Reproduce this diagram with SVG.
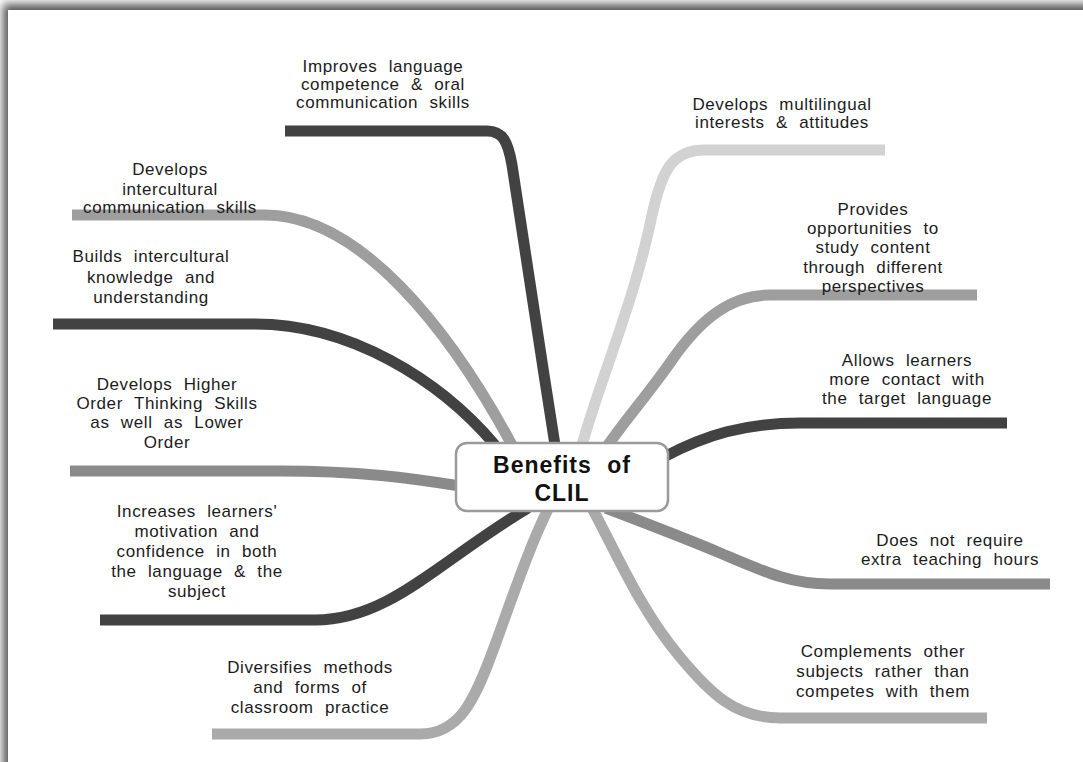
<svg xmlns="http://www.w3.org/2000/svg" width="1083" height="762" viewBox="0 0 1083 762">
<defs>
<filter id="sh" x="-5%" y="-5%" width="110%" height="110%"><feGaussianBlur stdDeviation="5"/></filter>
<style>
.br{fill:none;stroke-width:11;stroke-linecap:butt}
.d{stroke:#424242}.m{stroke:#8a8a8a}.g{stroke:#9e9e9e}.l{stroke:#aaaaaa}.xl{stroke:#d2d2d2}
.t{font-family:"Liberation Sans",Arial,sans-serif;font-size:17px;fill:#1c1c1c;text-anchor:middle;letter-spacing:0.6px;word-spacing:6px}
.c{font-family:"Liberation Sans",Arial,sans-serif;font-size:23px;font-weight:bold;fill:#111;text-anchor:middle;letter-spacing:1px;word-spacing:8px}
</style>
</defs>
<rect x="0" y="0" width="1083" height="762" fill="#ffffff"/>
<rect x="3" y="4" width="1100" height="780" fill="#555555" filter="url(#sh)"/>
<rect x="8" y="10" width="1075" height="752" fill="#ffffff"/>
<g id="connectors">
<path class="br d" d="M285,131 H487 C503,131 508,142 512,165 C525,250 540,350 555,445"/>
<path class="br xl" d="M885,150 H705 C672,150 662,170 652,215 C635,300 600,380 582,445"/>
<path class="br g" d="M977,295 H770 C730,295 700,320 672,360 C650,392 625,420 606,448"/>
<path class="br d" d="M1007,423 H800 C745,423 705,435 664,457"/>
<path class="br m" d="M606,508 C650,525 690,540 720,553 C765,572 790,584 830,584 H1050"/>
<path class="br l" d="M592,508 C615,550 640,610 680,657 C710,693 735,718 780,718 H987"/>
<path class="br l" d="M212,734 H420 C460,734 475,700 495,645 C515,590 530,545 550,505"/>
<path class="br d" d="M100,620 H315 C390,620 440,560 528,508"/>
<path class="br m" d="M70,471 H280 C360,471 410,478 460,486"/>
<path class="br d" d="M53,324 H255 C350,324 440,380 495,445"/>
<path class="br g" d="M72,215 H265 C360,215 450,330 512,445"/>
</g>
<g id="center">
<rect x="456" y="443" width="212" height="68" rx="11" fill="#ffffff" stroke="#9a9a9a" stroke-width="2.5"/>
<text class="c" x="562" y="473">Benefits of</text>
<text class="c" x="562" y="501">CLIL</text>
</g>
<g id="n1"><text class="t" x="383" y="72">Improves language</text><text class="t" x="383" y="90">competence &amp; oral</text><text class="t" x="383" y="108">communication skills</text></g>
<g id="n2"><text class="t" x="782" y="110">Develops multilingual</text><text class="t" x="782" y="128">interests &amp; attitudes</text></g>
<g id="n3"><text class="t" x="873" y="215">Provides</text><text class="t" x="873" y="234">opportunities to</text><text class="t" x="873" y="253">study content</text><text class="t" x="873" y="273">through different</text><text class="t" x="873" y="292">perspectives</text></g>
<g id="n4"><text class="t" x="907" y="366">Allows learners</text><text class="t" x="907" y="385">more contact with</text><text class="t" x="907" y="404">the target language</text></g>
<g id="n5"><text class="t" x="950" y="546">Does not require</text><text class="t" x="950" y="565">extra teaching hours</text></g>
<g id="n6"><text class="t" x="883" y="657">Complements other</text><text class="t" x="883" y="677">subjects rather than</text><text class="t" x="883" y="697">competes with them</text></g>
<g id="n7"><text class="t" x="310" y="673">Diversifies methods</text><text class="t" x="310" y="693">and forms of</text><text class="t" x="310" y="713">classroom practice</text></g>
<g id="n8"><text class="t" x="197" y="517">Increases learners'</text><text class="t" x="197" y="537">motivation and</text><text class="t" x="197" y="557">confidence in both</text><text class="t" x="197" y="577">the language &amp; the</text><text class="t" x="197" y="597">subject</text></g>
<g id="n9"><text class="t" x="167" y="390">Develops Higher</text><text class="t" x="167" y="409">Order Thinking Skills</text><text class="t" x="167" y="428">as well as Lower</text><text class="t" x="167" y="448">Order</text></g>
<g id="n10"><text class="t" x="151" y="262">Builds intercultural</text><text class="t" x="151" y="283">knowledge and</text><text class="t" x="151" y="303">understanding</text></g>
<g id="n11"><text class="t" x="170" y="175">Develops</text><text class="t" x="170" y="195">intercultural</text><text class="t" x="170" y="213">communication skills</text></g>
</svg>
